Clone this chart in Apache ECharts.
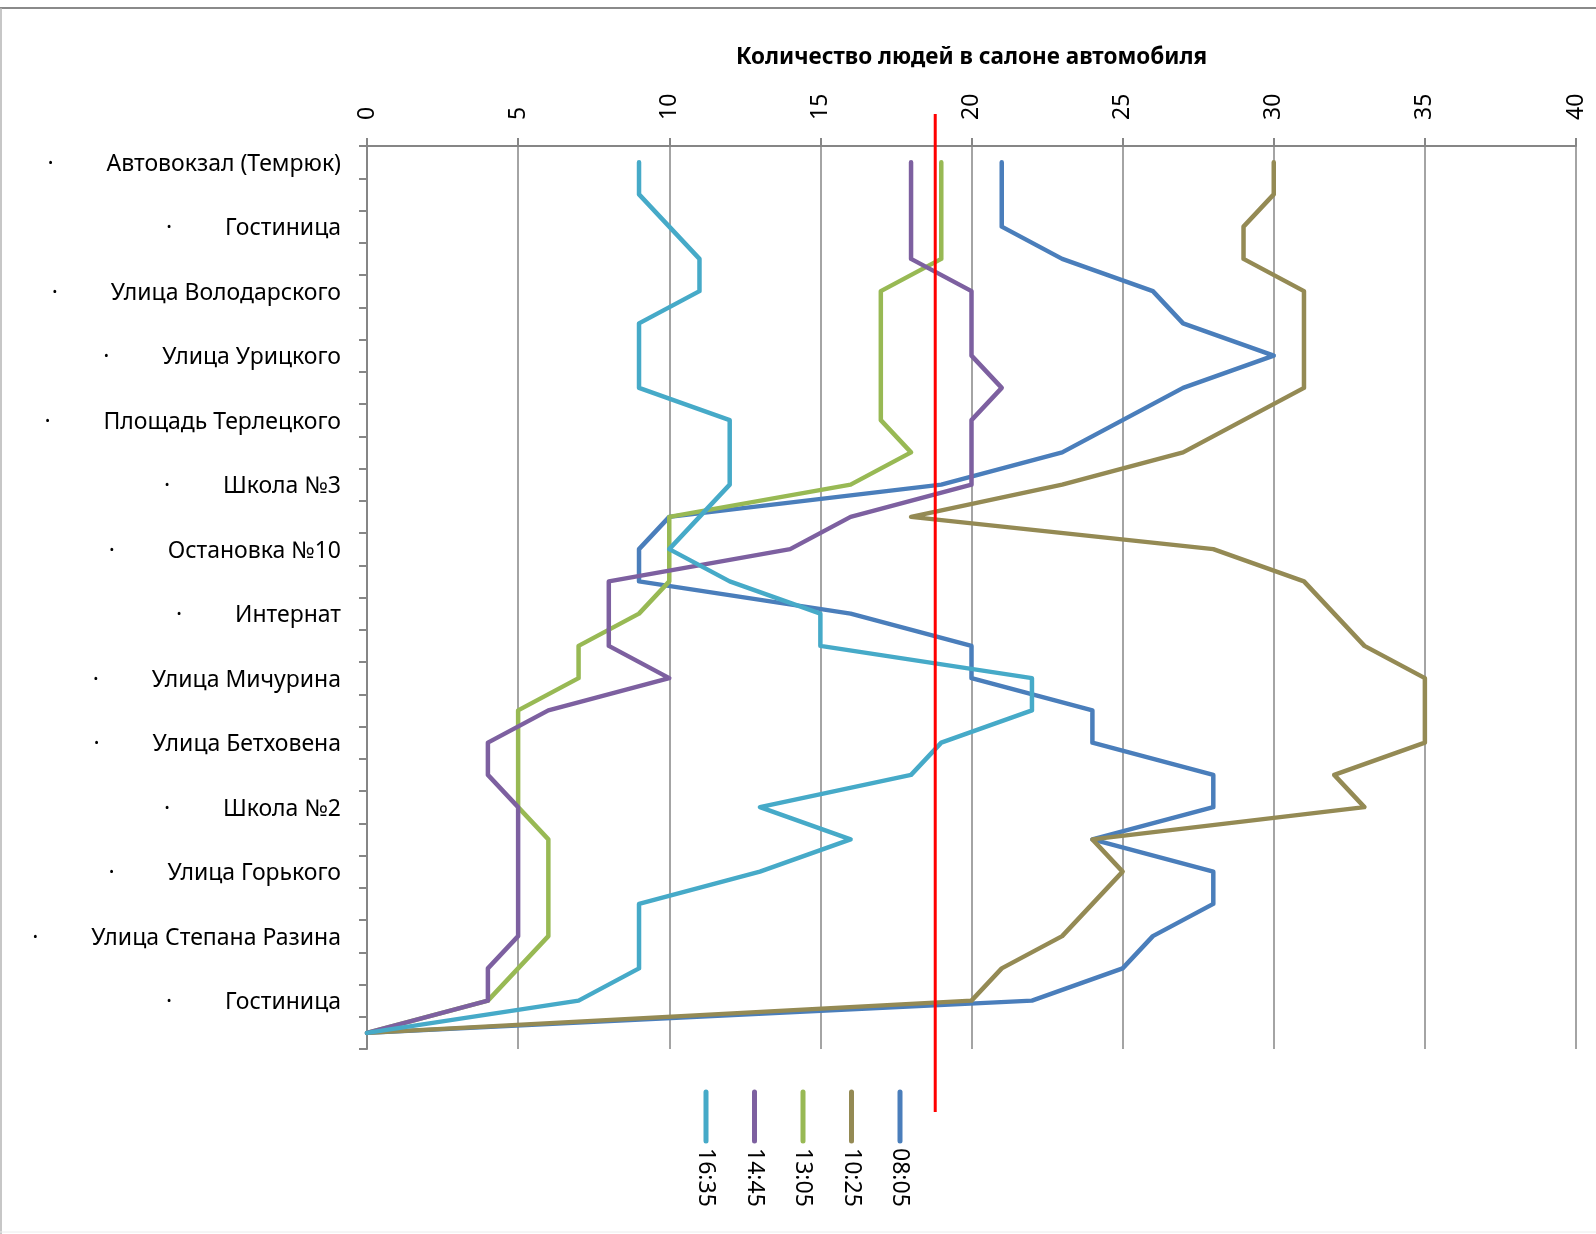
<!DOCTYPE html>
<html>
<head>
<meta charset="utf-8">
<script src="https://cdn.jsdelivr.net/npm/echarts@6/dist/echarts.min.js"></script>
<style>
  html, body { margin: 0; padding: 0; background: #fff; }
  #chart { width: 1596px; height: 1234px; }
</style>
</head>
<body>
<div id="chart"></div>
<script>
// остановки (подписи только на чётных позициях)
const stops = [
  'Автовокзал (Темрюк)', '', 'Гостиница', '', 'Улица Володарского', '',
  'Улица Урицкого', '', 'Площадь Терлецкого', '', 'Школа №3', '',
  'Остановка №10', '', 'Интернат', '', 'Улица Мичурина', '',
  'Улица Бетховена', '', 'Школа №2', '', 'Улица Горького', '',
  'Улица Степана Разина', '', 'Гостиница', ''
]

const seriesNames = ['08:05', '10:25', '13:05', '14:45', '16:35']
const seriesColors = ['#4a7ebb', '#948a54', '#98b954', '#7d60a0', '#46aac8']

const run0805 = [21, 21, 21, 23, 26, 27, 30, 27, 25, 23, 19, 10, 9, 9, 16, 20, 20, 24, 24, 28, 28, 24, 28, 28, 26, 25, 22, 0]
const run1025 = [30, 30, 29, 29, 31, 31, 31, 31, 29, 27, 23, 18, 28, 31, 32, 33, 35, 35, 35, 32, 33, 24, 25, 24, 23, 21, 20, 0]
const run1305 = [19, 19, 19, 19, 17, 17, 17, 17, 17, 18, 16, 10, 10, 10, 9, 7, 7, 5, 5, 5, 5, 6, 6, 6, 6, 5, 4, 0]
const run1445 = [18, 18, 18, 18, 20, 20, 20, 21, 20, 20, 20, 16, 14, 8, 8, 8, 10, 6, 4, 4, 5, 5, 5, 5, 5, 4, 4, 0]
const run1635 = [9, 9, 10, 11, 11, 9, 9, 9, 12, 12, 12, 11, 10, 12, 15, 15, 22, 22, 19, 18, 13, 16, 13, 9, 9, 9, 7, 0]
const runs = [run0805, run1025, run1305, run1445, run1635]

const valueMin = 0
const valueMax = 40
const valueStep = 5
const redLineValue = 18.8

const FONT = 'Noto Sans'
const FS = 23
const GREY = '#868686'

const chart = echarts.init(document.getElementById('chart'))

const option = {
  backgroundColor: '#fff',
  animation: false,
  grid: { left: 367, right: 20, top: 146, bottom: 185 },
  xAxis: {
    type: 'value',
    position: 'top',
    min: valueMin,
    max: valueMax,
    interval: valueStep,
    name: 'Количество людей в салоне автомобиля',
    nameLocation: 'middle',
    nameGap: 88,
    nameTextStyle: { fontFamily: FONT, fontSize: 22.5, fontWeight: 'bold', color: '#000', verticalAlign: 'middle' },
    axisLine: { show: true, lineStyle: { color: GREY, width: 2 } },
    axisTick: { show: true, length: 8, lineStyle: { color: GREY, width: 2 } },
    axisLabel: { rotate: -90, margin: 26, fontFamily: FONT, fontSize: FS, color: '#000' },
    splitLine: { show: true, lineStyle: { color: GREY, width: 1.5 } }
  },
  yAxis: {
    type: 'category',
    inverse: true,
    data: stops,
    axisLine: { show: true, lineStyle: { color: GREY, width: 2 } },
    axisTick: { show: true, interval: 0, length: 8, lineStyle: { color: GREY, width: 2 } },
    axisLabel: {
      interval: 0,
      margin: 26,
      formatter: (v) => (v ? '{b|·}{t|' + v + '}' : ''),
      rich: {
        b: { fontFamily: FONT, fontSize: FS, color: '#000', width: 59, align: 'left', padding: [4, 0, 0, 0] },
        t: { fontFamily: FONT, fontSize: FS, color: '#000', padding: [4, 0, 0, 0] }
      }
    },
    splitLine: { show: false }
  },
  series: seriesNames.map((name, i) => ({
    name,
    type: 'line',
    data: runs[i],
    symbol: 'none',
    z: 2 + i,
    lineStyle: { color: seriesColors[i], width: 4.5, cap: 'round', join: 'round' }
  }))
}

chart.setOption(option)

// красная линия и легенда
const redX = chart.convertToPixel({ xAxisIndex: 0 }, redLineValue)
const legendOrder = [4, 3, 2, 1, 0]
const legendItems = []
legendOrder.forEach((si, k) => {
  const cx = 706 + k * 48.5
  legendItems.push({
    type: 'line',
    shape: { x1: cx, y1: 1092, x2: cx, y2: 1141 },
    style: { stroke: seriesColors[si], lineWidth: 5, lineCap: 'round' }
  })
  legendItems.push({
    type: 'text',
    x: cx,
    y: 1148,
    rotation: -Math.PI / 2,
    style: {
      text: seriesNames[si],
      fontFamily: FONT,
      fontSize: FS,
      fill: '#000',
      align: 'left',
      verticalAlign: 'middle'
    }
  })
})

chart.setOption({
  graphic: [
    { type: 'line', shape: { x1: 0, y1: 8, x2: 1596, y2: 8 }, style: { stroke: '#8a8a8a', lineWidth: 2 } },
    { type: 'line', shape: { x1: 1, y1: 8, x2: 1, y2: 1234 }, style: { stroke: '#b5b5b5', lineWidth: 1.5 } },
    { type: 'line', shape: { x1: 0, y1: 1232, x2: 1596, y2: 1232 }, style: { stroke: '#ececec', lineWidth: 1 } },
    {
      type: 'line',
      z: 100,
      shape: { x1: redX, y1: 114, x2: redX, y2: 1112 },
      style: { stroke: '#ff0000', lineWidth: 3 }
    },
    ...legendItems
  ]
})
</script>
</body>
</html>
